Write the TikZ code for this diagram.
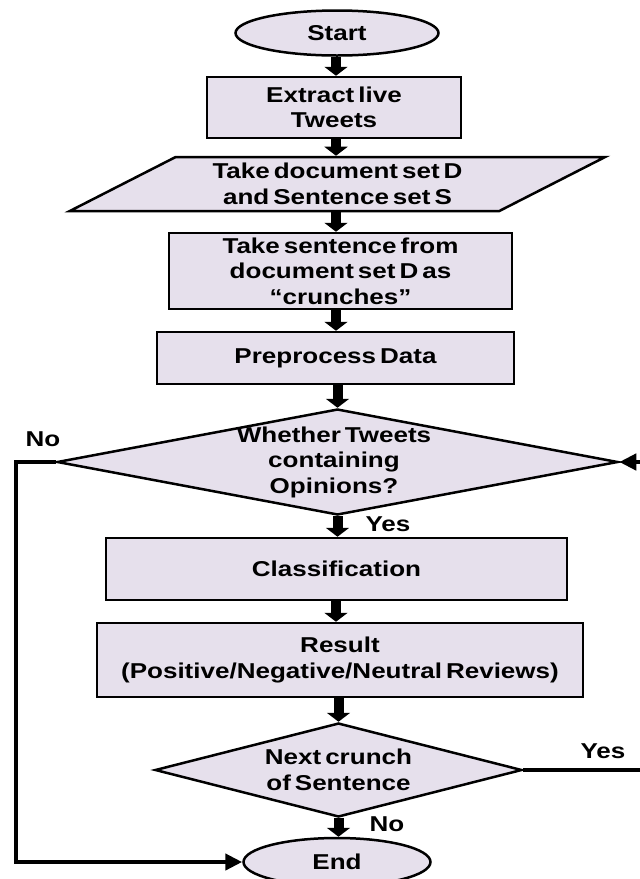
\documentclass[tikz,border=0pt]{standalone}
\usepackage{fontspec}
\setmainfont{Liberation Sans}[FakeStretch=1.21,WordSpace=0.55]
\usetikzlibrary{shapes.geometric,arrows.meta}
\definecolor{boxfill}{RGB}{230,224,236}
\newcommand\flowfont{\fontsize{21.5}{25.5}\selectfont\bfseries}
\tikzset{
  base/.style={draw=black, line width=2.5pt, fill=boxfill, inner sep=0pt, align=center, font=\flowfont},
  box/.style={base, rectangle},
  term/.style={base, ellipse},
  para/.style={base, trapezium, trapezium left angle=26.8, trapezium right angle=153.2,
    trapezium stretches=true},
  dia/.style={base, diamond},
  txt/.style={inner sep=0pt, align=center, font=\flowfont},
  lbl/.style={inner sep=0pt, font=\flowfont},
  flow/.style={line width=10pt, -{Triangle[length=9pt 0 0, width=23pt 0 0]}},
  loopline/.style={line width=4.5pt, line join=miter, -{Triangle[length=17pt 0 0, width=16pt 0 0]}}
}
\begin{document}
\begin{tikzpicture}[x=1pt,y=-1pt]
  \useasboundingbox (0,0) rectangle (640,879);
  \clip (0,0) rectangle (640,879);
  \node[term, minimum width=203pt, minimum height=45pt] (start) at (337,33) {Start};
  \node[box, minimum width=254pt, minimum height=61pt] (extract) at (334,107.5) {Extract live\\Tweets};
  \node[para, minimum width=537pt, minimum height=54pt] (data) at (337.5,184) {Take document set D\\and Sentence set S};
  \node[box, minimum width=343pt, minimum height=76pt] (take) at (340.5,271) {Take sentence from\\document set D as\\“crunches”};
  \node[box, minimum width=357pt, minimum height=52pt] (pre) at (335.5,358) {Preprocess Data};
  \node[dia, minimum width=561pt, minimum height=106pt] (d1) at (337.5,462) {};
  \node[txt] (d1t) at (334,462) {Whether Tweets\\containing\\Opinions?};
  \node[box, minimum width=461pt, minimum height=62pt] (cls) at (336.5,569) {Classification};
  \node[box, minimum width=486pt, minimum height=74pt] (res) at (340,660) {Result\\(Positive/Negative/Neutral Reviews)};
  \node[dia, minimum width=367pt, minimum height=94pt] (d2) at (338.5,770) {};
  \node[txt] (d2t) at (338.5,770) {Next crunch\\of Sentence};
  \node[term, minimum width=187pt, minimum height=48pt] (end) at (337,862) {End};

  \node[lbl] (no1) at (43,439) {No};
  \node[lbl] (yes1) at (388,524) {Yes};
  \node[lbl] (yes2) at (603,751) {Yes};
  \node[lbl] (no2) at (387,824) {No};

  \coordinate (axis) at (336,0);
  \coordinate (leftx) at (16,0);
  \coordinate (rightx) at (652,0);

  \draw[flow] (start.south -| axis) -- (extract.north -| axis);
  \draw[flow] (extract.south -| axis) -- (data.north -| axis);
  \draw[flow] (data.south -| axis) -- (take.north -| axis);
  \draw[flow] (take.south -| axis) -- (pre.north -| axis);
  \draw[flow] (pre.south -| d1.north) -- (d1.north);
  \draw[flow] (d1.south) -- (cls.north -| d1.south);
  \draw[flow] (cls.south -| axis) -- (res.north -| axis);
  \draw[flow] (res.south -| d2.north) -- (d2.north);
  \draw[flow] (d2.south) -- (end.north -| d2.south);

  \draw[loopline] (d1.west) -- (d1.west -| leftx) |- (end.west);
  \draw[loopline] (d2.east) -- (d2.east -| rightx) |- (d1.east);
\end{tikzpicture}
\end{document}
